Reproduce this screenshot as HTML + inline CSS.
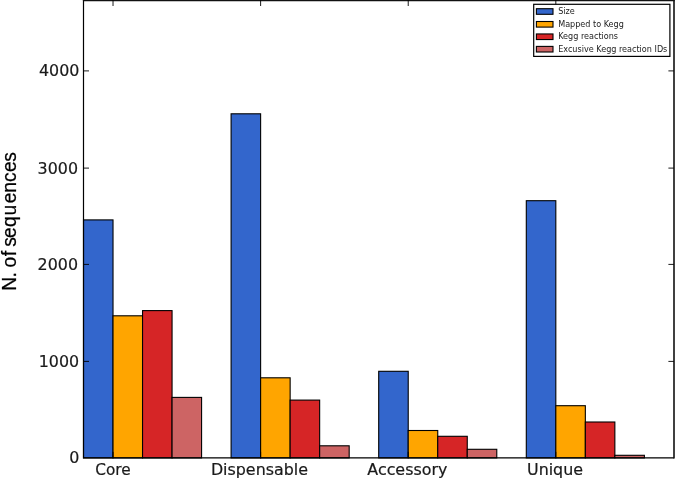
<!DOCTYPE html>
<html><head><meta charset="utf-8"><title>N. of sequences</title>
<style>
html,body{margin:0;padding:0;background:#fff;}
body{width:675px;height:478px;overflow:hidden;position:relative;}
svg{position:absolute;left:0;top:0;display:block;}
.tk{font-family:"DejaVu Sans","Liberation Sans",sans-serif;font-size:15px;fill:#1a1a1a;stroke:#1a1a1a;stroke-width:0.2px;}
.lg{font-family:"DejaVu Sans","Liberation Sans",sans-serif;font-size:8.08px;fill:#222;}
.yl{font-family:"Liberation Sans","DejaVu Sans",sans-serif;font-size:20.5px;fill:#000;stroke:#000;stroke-width:0.25px;}
</style></head><body>
<svg width="675" height="478" viewBox="0 0 675 478">
<rect x="0" y="0" width="675" height="478" fill="#fff"/>
<rect x="83.50" y="219.90" width="29.52" height="238.00" fill="#3366CC" stroke="#000" stroke-width="1.1"/>
<rect x="113.02" y="315.80" width="29.52" height="142.10" fill="#FFA500" stroke="#000" stroke-width="1.1"/>
<rect x="142.54" y="310.60" width="29.52" height="147.30" fill="#D62526" stroke="#000" stroke-width="1.1"/>
<rect x="172.06" y="397.40" width="29.52" height="60.50" fill="#CD6464" stroke="#000" stroke-width="1.1"/>
<rect x="231.10" y="113.80" width="29.52" height="344.10" fill="#3366CC" stroke="#000" stroke-width="1.1"/>
<rect x="260.62" y="377.80" width="29.52" height="80.10" fill="#FFA500" stroke="#000" stroke-width="1.1"/>
<rect x="290.14" y="400.10" width="29.52" height="57.80" fill="#D62526" stroke="#000" stroke-width="1.1"/>
<rect x="319.66" y="445.80" width="29.52" height="12.10" fill="#CD6464" stroke="#000" stroke-width="1.1"/>
<rect x="378.70" y="371.30" width="29.52" height="86.60" fill="#3366CC" stroke="#000" stroke-width="1.1"/>
<rect x="408.22" y="430.50" width="29.52" height="27.40" fill="#FFA500" stroke="#000" stroke-width="1.1"/>
<rect x="437.74" y="436.30" width="29.52" height="21.60" fill="#D62526" stroke="#000" stroke-width="1.1"/>
<rect x="467.26" y="449.30" width="29.52" height="8.60" fill="#CD6464" stroke="#000" stroke-width="1.1"/>
<rect x="526.30" y="200.70" width="29.52" height="257.20" fill="#3366CC" stroke="#000" stroke-width="1.1"/>
<rect x="555.82" y="405.70" width="29.52" height="52.20" fill="#FFA500" stroke="#000" stroke-width="1.1"/>
<rect x="585.34" y="422.00" width="29.52" height="35.90" fill="#D62526" stroke="#000" stroke-width="1.1"/>
<rect x="614.86" y="455.30" width="29.52" height="2.60" fill="#CD6464" stroke="#000" stroke-width="1.1"/>
<path d="M83.50 0V457.9H673.90" fill="none" stroke="#000" stroke-width="1.2"/>
<path d="M674.00 458.5V0" fill="none" stroke="#000" stroke-width="1.5"/>
<path d="M82.90 0.55H674.70" fill="none" stroke="#111" stroke-width="1.6"/>
<path d="M83.50 361.40h5.5M673.90 361.40h-5.5" stroke="#000" stroke-width="0.9"/>
<path d="M83.50 264.40h5.5M673.90 264.40h-5.5" stroke="#000" stroke-width="0.9"/>
<path d="M83.50 168.10h5.5M673.90 168.10h-5.5" stroke="#000" stroke-width="0.9"/>
<path d="M83.50 70.90h5.5M673.90 70.90h-5.5" stroke="#000" stroke-width="0.9"/>
<text class="tk" transform="translate(79.4 76.0) scale(1.06 1)" text-anchor="end">4000</text>
<text class="tk" transform="translate(78.0 174.0) scale(1.06 1)" text-anchor="end">3000</text>
<text class="tk" transform="translate(78.0 270.0) scale(1.06 1)" text-anchor="end">2000</text>
<text class="tk" transform="translate(79.1 367.0) scale(1.06 1)" text-anchor="end">1000</text>
<text class="tk" transform="translate(79.3 463.0) scale(1.06 1)" text-anchor="end">0</text>
<path d="M113.02 0v6M113.02 457.9v-6" stroke="#000" stroke-width="0.9"/>
<text class="tk" transform="translate(112.92 474.6) scale(1.02 1)" text-anchor="middle">Core</text>
<path d="M260.62 0v6M260.62 457.9v-6" stroke="#000" stroke-width="0.9"/>
<text class="tk" transform="translate(259.42 474.6) scale(1.06 1)" text-anchor="middle">Dispensable</text>
<path d="M408.22 0v6M408.22 457.9v-6" stroke="#000" stroke-width="0.9"/>
<text class="tk" transform="translate(407.32 474.6) scale(1.06 1)" text-anchor="middle">Accessory</text>
<path d="M555.82 0v6M555.82 457.9v-6" stroke="#000" stroke-width="0.9"/>
<text class="tk" transform="translate(555.02 474.6) scale(1.06 1)" text-anchor="middle">Unique</text>
<text class="yl" transform="translate(15.5 290) rotate(-90) scale(0.94 1)"><tspan x="-0.68 13.36" y="0">N.</tspan> <tspan x="23.90 35.82" y="0">of</tspan> <tspan x="46.01 55.45 67.08 79.32 92.37 103.45 114.91 125.67 136.39" y="0">sequences</tspan></text>
<rect x="533.7" y="4.3" width="136.2" height="52.1" fill="#fff" stroke="#000" stroke-width="1.2"/>
<rect x="536.4" y="8.70" width="16.6" height="5.6" fill="#3366CC" stroke="#000" stroke-width="1.1"/>
<text class="lg" x="558.2" y="13.60">Size</text>
<rect x="536.4" y="21.50" width="16.6" height="5.6" fill="#FFA500" stroke="#000" stroke-width="1.1"/>
<text class="lg" x="558.2" y="26.60">Mapped to Kegg</text>
<rect x="536.4" y="33.95" width="16.6" height="5.6" fill="#D62526" stroke="#000" stroke-width="1.1"/>
<text class="lg" x="558.2" y="38.90">Kegg reactions</text>
<rect x="536.4" y="46.40" width="16.6" height="5.6" fill="#CD6464" stroke="#000" stroke-width="1.1"/>
<text class="lg" x="558.2" y="51.70">Excusive Kegg reaction IDs</text>
</svg>
</body></html>
